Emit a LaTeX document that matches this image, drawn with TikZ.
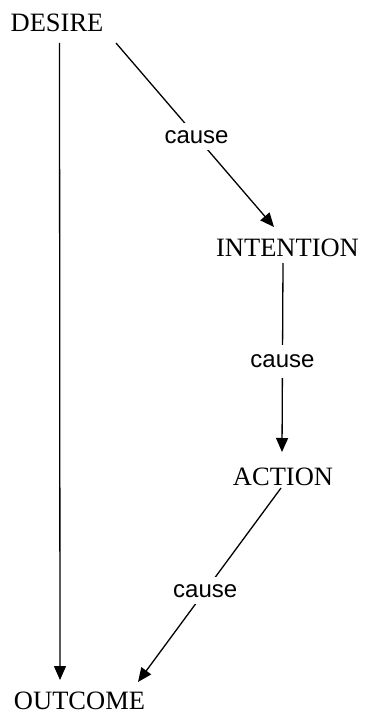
\documentclass[tikz,border=0pt]{standalone}
\usepackage{fontspec}
\setmainfont{Liberation Serif}
\newfontfamily\causefont{Liberation Sans}
\usetikzlibrary{arrows.meta,calc}
\tikzset{
  concept/.style={inner sep=0pt, anchor=base, font=\fontsize{26.5}{30}\selectfont},
  lab/.style={fill=white, inner xsep=2pt, inner ysep=7pt, font=\causefont\fontsize{24}{28}\selectfont},
  link/.style={line width=1.3pt},
  arr/.style={link, -{Triangle[length=14pt,width=12pt]}}
}
\begin{document}
\begin{tikzpicture}[x=1pt,y=-1pt]
\useasboundingbox (0,0) rectangle (366,714);
\node[concept] (desire) at (57,32) {DESIRE};
\node[concept] (intention) at (287.5,256) {INTENTION};
\node[concept] (action) at (283,485) {ACTION};
\node[concept] (outcome) at (79.5,709) {OUTCOME};
\draw[arr] ($(desire.base)+(2.5,11)$) -- ($(outcome.base)+(-19.5,-29)$);
\draw[arr] ($(desire.base)+(59,11)$) -- node[lab,pos=0.51] (c1) {cause} ($(intention.base)+(-13.5,-29)$);
\draw[arr] ($(intention.base)+(-4.5,7)$) -- node[lab,pos=0.52,inner ysep=10pt] (c2) {cause} ($(action.base)+(-1,-33)$);
\draw[arr] ($(action.base)+(-2,3)$) -- node[lab,pos=0.53] (c3) {cause} ($(outcome.base)+(58.5,-27)$);
\end{tikzpicture}
\end{document}
